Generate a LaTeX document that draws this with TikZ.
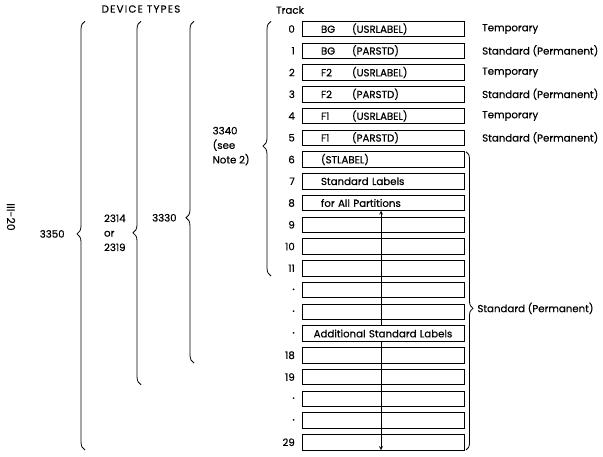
\documentclass[tikz,border=0pt]{standalone}
\usepackage{fontspec}
\setmainfont{Poppins}[FakeBold=0.5]
\usetikzlibrary{positioning,decorations.pathreplacing}

\begin{document}
\begin{tikzpicture}[
    x=1pt, y=-1pt,
    font=\fontsize{10.2}{14.5}\selectfont,
    trk/.style={rectangle, draw, line width=0.9pt, text width=124pt, inner xsep=19pt, inner ysep=0pt, outer sep=0pt, minimum height=15.5pt, align=left},
    num/.style={inner sep=1pt},
    rlab/.style={inner sep=1pt, anchor=west},
    dev/.style={inner sep=1pt, align=left},
    brc/.style={decorate, line width=0.8pt},
    arrow/.style={->, >=stealth, line width=0.7pt}
]
    \useasboundingbox (0,0) rectangle (603,456);

    % Headings
    \node (devtypes) at (141,9) {\addfontfeature{LetterSpace=12}DEVICE TYPES};
    \node (track) at (290,10) {Track};
    \node[rotate=-90] (page) at (11,217) {\fontsize{11}{11}\selectfont III-20};

    % Track boxes
    \node[trk] (t0) at (383,29) {\makebox[31pt][l]{BG}(USRLABEL)};
    \node[trk, below=6.25pt of t0] (t1) {\makebox[31pt][l]{BG}(PARSTD)};
    \node[trk, below=6.25pt of t1] (t2) {\makebox[31pt][l]{F2}(USRLABEL)};
    \node[trk, below=6.25pt of t2] (t3) {\makebox[31pt][l]{F2}(PARSTD)};
    \node[trk, below=6.25pt of t3] (t4) {\makebox[31pt][l]{F1}(USRLABEL)};
    \node[trk, below=6.25pt of t4] (t5) {\makebox[31pt][l]{F1}(PARSTD)};
    \node[trk, below=6.25pt of t5] (t6) {(STLABEL)};
    \node[trk, below=6.25pt of t6] (t7) {Standard Labels};
    \node[trk, below=6.25pt of t7] (t8) {for All Partitions};
    \node[trk, below=6.25pt of t8] (t9) {};
    \node[trk, below=6.25pt of t9] (t10) {};
    \node[trk, below=6.25pt of t10] (t11) {};
    \node[trk, below=6.25pt of t11] (d1) {};
    \node[trk, below=6.25pt of d1] (d2) {};
    \node[trk, text width=158pt, inner xsep=2pt, align=center, below=6.25pt of d2] (addl) {Additional Standard Labels};
    \node[trk, below=6.25pt of addl] (t18) {};
    \node[trk, below=6.25pt of t18] (t19) {};
    \node[trk, below=6.25pt of t19] (d4) {};
    \node[trk, below=6.25pt of d4] (d5) {};
    \node[trk, below=6.25pt of d5] (t29) {};

    % Track numbers
    \node[num, left=6pt of t0] (n0) {0};
    \node[num, left=6pt of t1] (n1) {1};
    \node[num, left=6pt of t2] (n2) {2};
    \node[num, left=6pt of t3] (n3) {3};
    \node[num, left=6pt of t4] (n4) {4};
    \node[num, left=6pt of t5] (n5) {5};
    \node[num, left=6pt of t6] (n6) {6};
    \node[num, left=6pt of t7] (n7) {7};
    \node[num, left=6pt of t8] (n8) {8};
    \node[num, left=6pt of t9] (n9) {9};
    \node[num, left=6pt of t10] (n10) {10};
    \node[num, left=6pt of t11] (n11) {11};
    \node[num, left=6pt of d1] (m1) {\fontsize{6}{6}\selectfont\textbullet};
    \node[num, left=6pt of d2] (m2) {\fontsize{6}{6}\selectfont\textbullet};
    \node[num, left=6pt of addl] (m3) {\fontsize{6}{6}\selectfont\textbullet};
    \node[num, left=6pt of t18] (n18) {18};
    \node[num, left=6pt of t19] (n19) {19};
    \node[num, left=6pt of d4] (m4) {\fontsize{6}{6}\selectfont\textbullet};
    \node[num, left=6pt of d5] (m5) {\fontsize{6}{6}\selectfont\textbullet};
    \node[num, left=6pt of t29] (n29) {29};

    % Label types
    \node[rlab, right=17pt of t0] (r0) {Temporary};
    \node[rlab, right=17pt of t1] (r1) {Standard (Permanent)};
    \node[rlab, right=17pt of t2] (r2) {Temporary};
    \node[rlab, right=17pt of t3] (r3) {Standard (Permanent)};
    \node[rlab, right=17pt of t4] (r4) {Temporary};
    \node[rlab, right=17pt of t5] (r5) {Standard (Permanent)};
    \draw[brc, decoration={brace, amplitude=7pt, aspect=0.525}] ([xshift=2pt]t6.north east) -- node[rlab, pos=0.525, right=10pt] (rstd) {Standard (Permanent)} ([xshift=2pt]t29.south east);

    % Arrows
    \draw[arrow] ([xshift=-2pt]addl.north) -- ([xshift=-2pt]addl.north |- t8.south);
    \draw[arrow] ([xshift=-2pt]addl.south) -- ([xshift=-2pt]addl.south |- t29.south);

    % Device types
    \draw[brc, decoration={brace, amplitude=8pt, aspect=0.504}] ([xshift=-217pt]t29.south west) -- node[dev, pos=0.504, left=19pt] (d3350) {3350} ([xshift=-217pt]t0.north west);
    \draw[brc, decoration={brace, amplitude=8pt, aspect=0.418}] ([xshift=-161pt]t19.south west) -- node[dev, pos=0.418, left=14pt] (d2314) {2314\\or\\2319} ([xshift=-161pt]t0.north west);
    \draw[brc, decoration={brace, amplitude=8pt, aspect=0.425}] ([xshift=-108pt]t18.south west) -- node[dev, pos=0.425, left=16pt] (d3330) {3330} ([xshift=-108pt]t0.north west);
    \draw[brc, decoration={brace, amplitude=8pt, aspect=0.51}] ([xshift=-31pt]t11.south west) -- node[dev, pos=0.51, left=20pt] (d3340) {3340\\(see\\Note 2)} ([xshift=-31pt]t0.north west);
\end{tikzpicture}
\end{document}
